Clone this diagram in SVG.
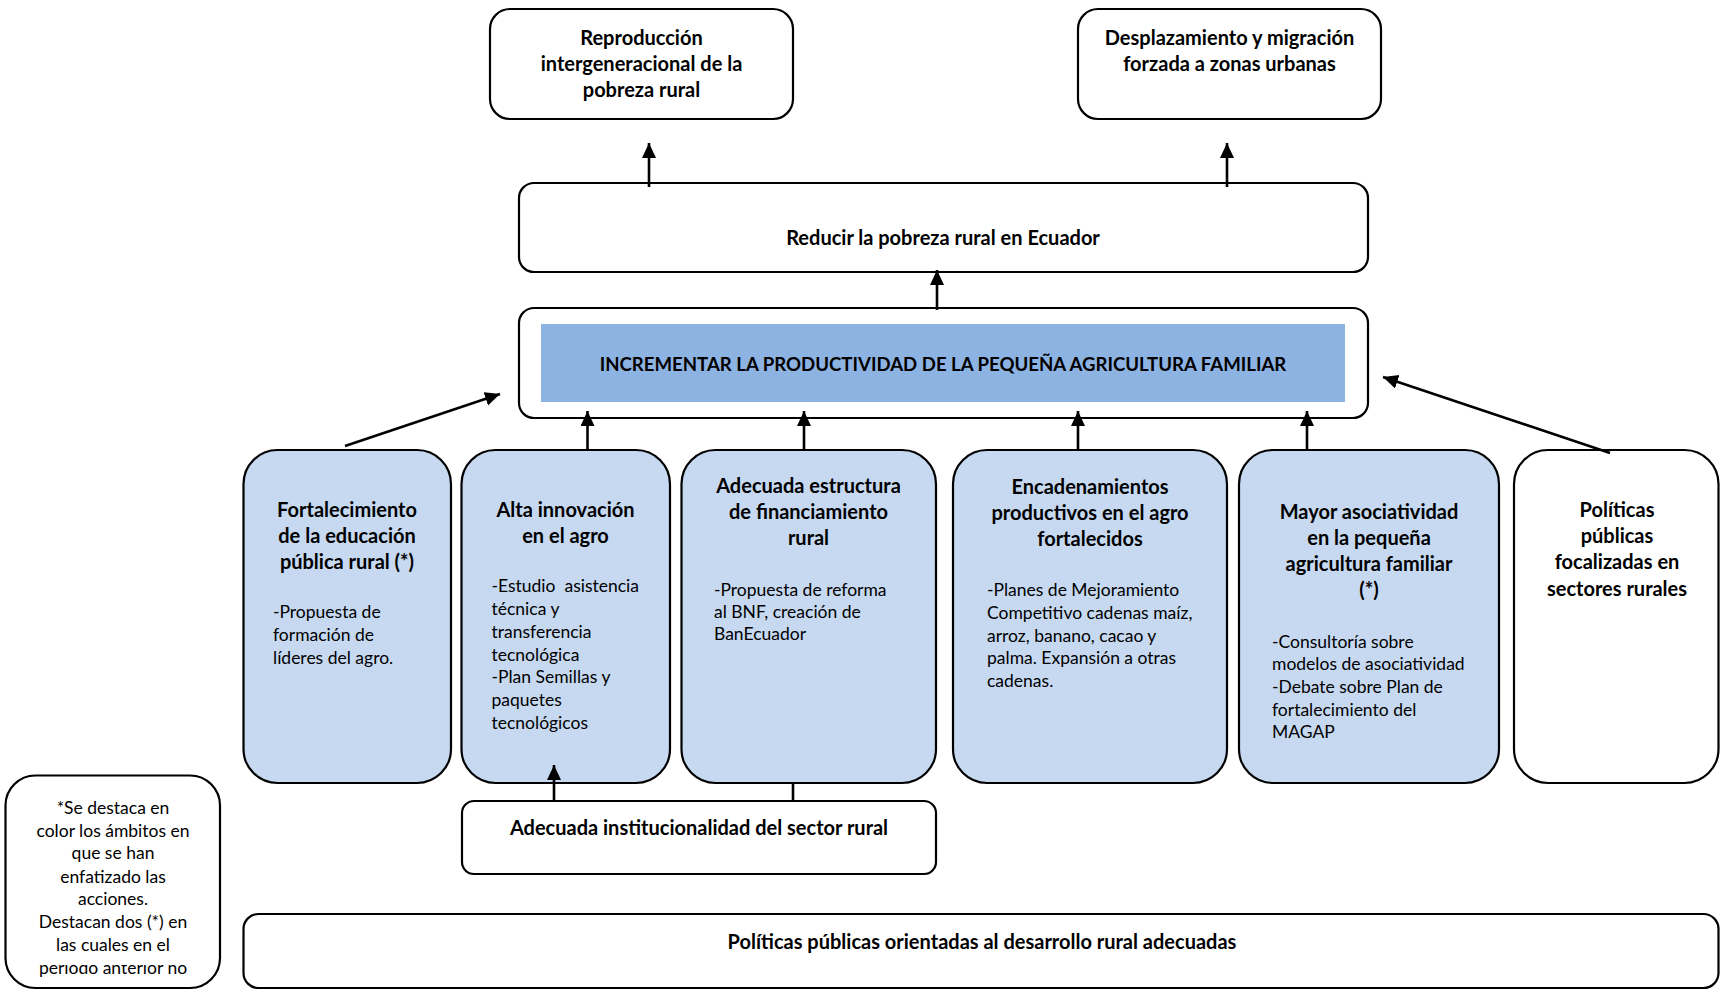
<svg xmlns="http://www.w3.org/2000/svg" width="1720" height="990" viewBox="0 0 1720 990">
<style>
  .box { fill: #ffffff; stroke: #000000; stroke-width: 2.2; }
  .blue { fill: #C6D9F1; stroke: #000000; stroke-width: 2.2; }
  .band { fill: #8DB3E2; stroke: none; }
  .h { font-family: Lato, "Liberation Sans", sans-serif; font-weight: bold; font-size: 20px; fill: #000; text-anchor: middle; }
  .caps { font-size: 18.6px; }
  .b { font-family: Lato, "Liberation Sans", sans-serif; font-size: 17.5px; fill: #000; }
  .c { text-anchor: middle; }
  .conn line { stroke: #000; stroke-width: 2.6; }
</style>
<defs>
  <marker id="ah" markerUnits="userSpaceOnUse" markerWidth="16" markerHeight="16" refX="15" refY="7" orient="auto">
    <path d="M0,0 L15,7 L0,14 z" fill="#000"/>
  </marker>
  <clipPath id="legclip"><rect x="0" y="965" width="240" height="25"/></clipPath>
</defs>

<g id="node-reproduccion">
  <rect class="box" x="490" y="9" width="303" height="110" rx="20"/>
  <text class="h" x="641.5" y="45">Reproducción</text>
  <text class="h" x="641.5" y="71">intergeneracional de la</text>
  <text class="h" x="641.5" y="97">pobreza rural</text>
</g>

<g id="node-desplazamiento">
  <rect class="box" x="1078" y="9" width="303" height="110" rx="20"/>
  <text class="h" x="1229.5" y="45">Desplazamiento y migración</text>
  <text class="h" x="1229.5" y="71">forzada a zonas urbanas</text>
</g>

<g id="node-reducir">
  <rect class="box" x="519" y="183" width="849" height="89" rx="15"/>
  <text class="h" x="943" y="245">Reducir la pobreza rural en Ecuador</text>
</g>

<g id="node-incrementar">
  <rect class="box" x="519" y="308" width="849" height="110" rx="15"/>
  <rect class="band" x="541" y="324" width="804" height="78"/>
  <text class="h caps" x="943" y="371">INCREMENTAR LA PRODUCTIVIDAD DE LA PEQUEÑA AGRICULTURA FAMILIAR</text>
</g>

<g id="node-educacion">
  <rect class="blue" x="243.5" y="450" width="207.5" height="333" rx="34"/>
  <text class="h" x="347" y="517">Fortalecimiento</text>
  <text class="h" x="347" y="543">de la educación</text>
  <text class="h" x="347" y="569">pública rural (*)</text>
  <text class="b" x="273" y="618">-Propuesta de</text>
  <text class="b" x="273" y="641">formación de</text>
  <text class="b" x="273" y="664">líderes del agro.</text>
</g>

<g id="node-innovacion">
  <rect class="blue" x="461.5" y="450" width="208.5" height="333" rx="34"/>
  <text class="h" x="565.5" y="517">Alta innovación</text>
  <text class="h" x="565.5" y="543">en el agro</text>
  <text class="b" x="491.5" y="592" xml:space="preserve">-Estudio  asistencia</text>
  <text class="b" x="491.5" y="615">técnica y</text>
  <text class="b" x="491.5" y="638">transferencia</text>
  <text class="b" x="491.5" y="661">tecnológica</text>
  <text class="b" x="491.5" y="683">-Plan Semillas y</text>
  <text class="b" x="491.5" y="706">paquetes</text>
  <text class="b" x="491.5" y="729">tecnológicos</text>
</g>

<g id="node-financiamiento">
  <rect class="blue" x="681.5" y="450" width="254.5" height="333" rx="34"/>
  <text class="h" x="808.5" y="493">Adecuada estructura</text>
  <text class="h" x="808.5" y="519">de financiamiento</text>
  <text class="h" x="808.5" y="545">rural</text>
  <text class="b" x="714" y="596">-Propuesta de reforma</text>
  <text class="b" x="714" y="618">al BNF, creación de</text>
  <text class="b" x="714" y="640">BanEcuador</text>
</g>

<g id="node-encadenamientos">
  <rect class="blue" x="953" y="450" width="274" height="333" rx="34"/>
  <text class="h" x="1090" y="494">Encadenamientos</text>
  <text class="h" x="1090" y="520">productivos en el agro</text>
  <text class="h" x="1090" y="546">fortalecidos</text>
  <text class="b" x="987" y="596">-Planes de Mejoramiento</text>
  <text class="b" x="987" y="619">Competitivo cadenas maíz,</text>
  <text class="b" x="987" y="642">arroz, banano, cacao y</text>
  <text class="b" x="987" y="664">palma. Expansión a otras</text>
  <text class="b" x="987" y="687">cadenas.</text>
</g>

<g id="node-asociatividad">
  <rect class="blue" x="1239" y="450" width="260" height="333" rx="34"/>
  <text class="h" x="1369" y="519">Mayor asociatividad</text>
  <text class="h" x="1369" y="545">en la pequeña</text>
  <text class="h" x="1369" y="571">agricultura familiar</text>
  <text class="h" x="1369" y="597">(*)</text>
  <text class="b" x="1272" y="648">-Consultoría sobre</text>
  <text class="b" x="1272" y="670">modelos de asociatividad</text>
  <text class="b" x="1272" y="693">-Debate sobre Plan de</text>
  <text class="b" x="1272" y="716">fortalecimiento del</text>
  <text class="b" x="1272" y="738">MAGAP</text>
</g>

<g id="node-focalizadas">
  <rect class="box" x="1514" y="450" width="204.5" height="333" rx="34"/>
  <text class="h" x="1617" y="517">Políticas</text>
  <text class="h" x="1617" y="543">públicas</text>
  <text class="h" x="1617" y="569">focalizadas en</text>
  <text class="h" x="1617" y="596">sectores rurales</text>
</g>

<g id="node-institucionalidad">
  <rect class="box" x="462" y="801" width="474" height="73" rx="12"/>
  <text class="h" x="699" y="835">Adecuada institucionalidad del sector rural</text>
</g>

<g id="node-orientadas">
  <rect class="box" x="243.5" y="914" width="1475" height="74" rx="15"/>
  <text class="h" x="982" y="949">Políticas públicas orientadas al desarrollo rural adecuadas</text>
</g>

<g id="node-leyenda">
  <rect class="box" x="5.5" y="775.5" width="214.5" height="212.5" rx="30"/>
  <text class="b c" x="113" y="814">*Se destaca en</text>
  <text class="b c" x="113" y="837">color los ámbitos en</text>
  <text class="b c" x="113" y="859">que se han</text>
  <text class="b c" x="113" y="883">enfatizado las</text>
  <text class="b c" x="113" y="905">acciones.</text>
  <text class="b c" x="113" y="928">Destacan dos (*) en</text>
  <text class="b c" x="113" y="951">las cuales en el</text>
  <text class="b c" x="113" y="974" clip-path="url(#legclip)">período anterior no</text>
</g>

<g id="connectors" class="conn">
  <line x1="649" y1="187" x2="649" y2="143" marker-end="url(#ah)"/>
  <line x1="1227" y1="187" x2="1227" y2="143" marker-end="url(#ah)"/>
  <line x1="937" y1="310" x2="937" y2="270" marker-end="url(#ah)"/>
  <line x1="345" y1="446" x2="500" y2="394" marker-end="url(#ah)"/>
  <line x1="587.5" y1="450" x2="587.5" y2="411" marker-end="url(#ah)"/>
  <line x1="804" y1="450" x2="804" y2="411" marker-end="url(#ah)"/>
  <line x1="1078" y1="450" x2="1078" y2="411" marker-end="url(#ah)"/>
  <line x1="1307" y1="450" x2="1307" y2="411" marker-end="url(#ah)"/>
  <line x1="1610" y1="453" x2="1383" y2="377" marker-end="url(#ah)"/>
  <line x1="554" y1="801" x2="554" y2="765" marker-end="url(#ah)"/>
  <line x1="793" y1="783" x2="793" y2="801"/>
</g>
</svg>
